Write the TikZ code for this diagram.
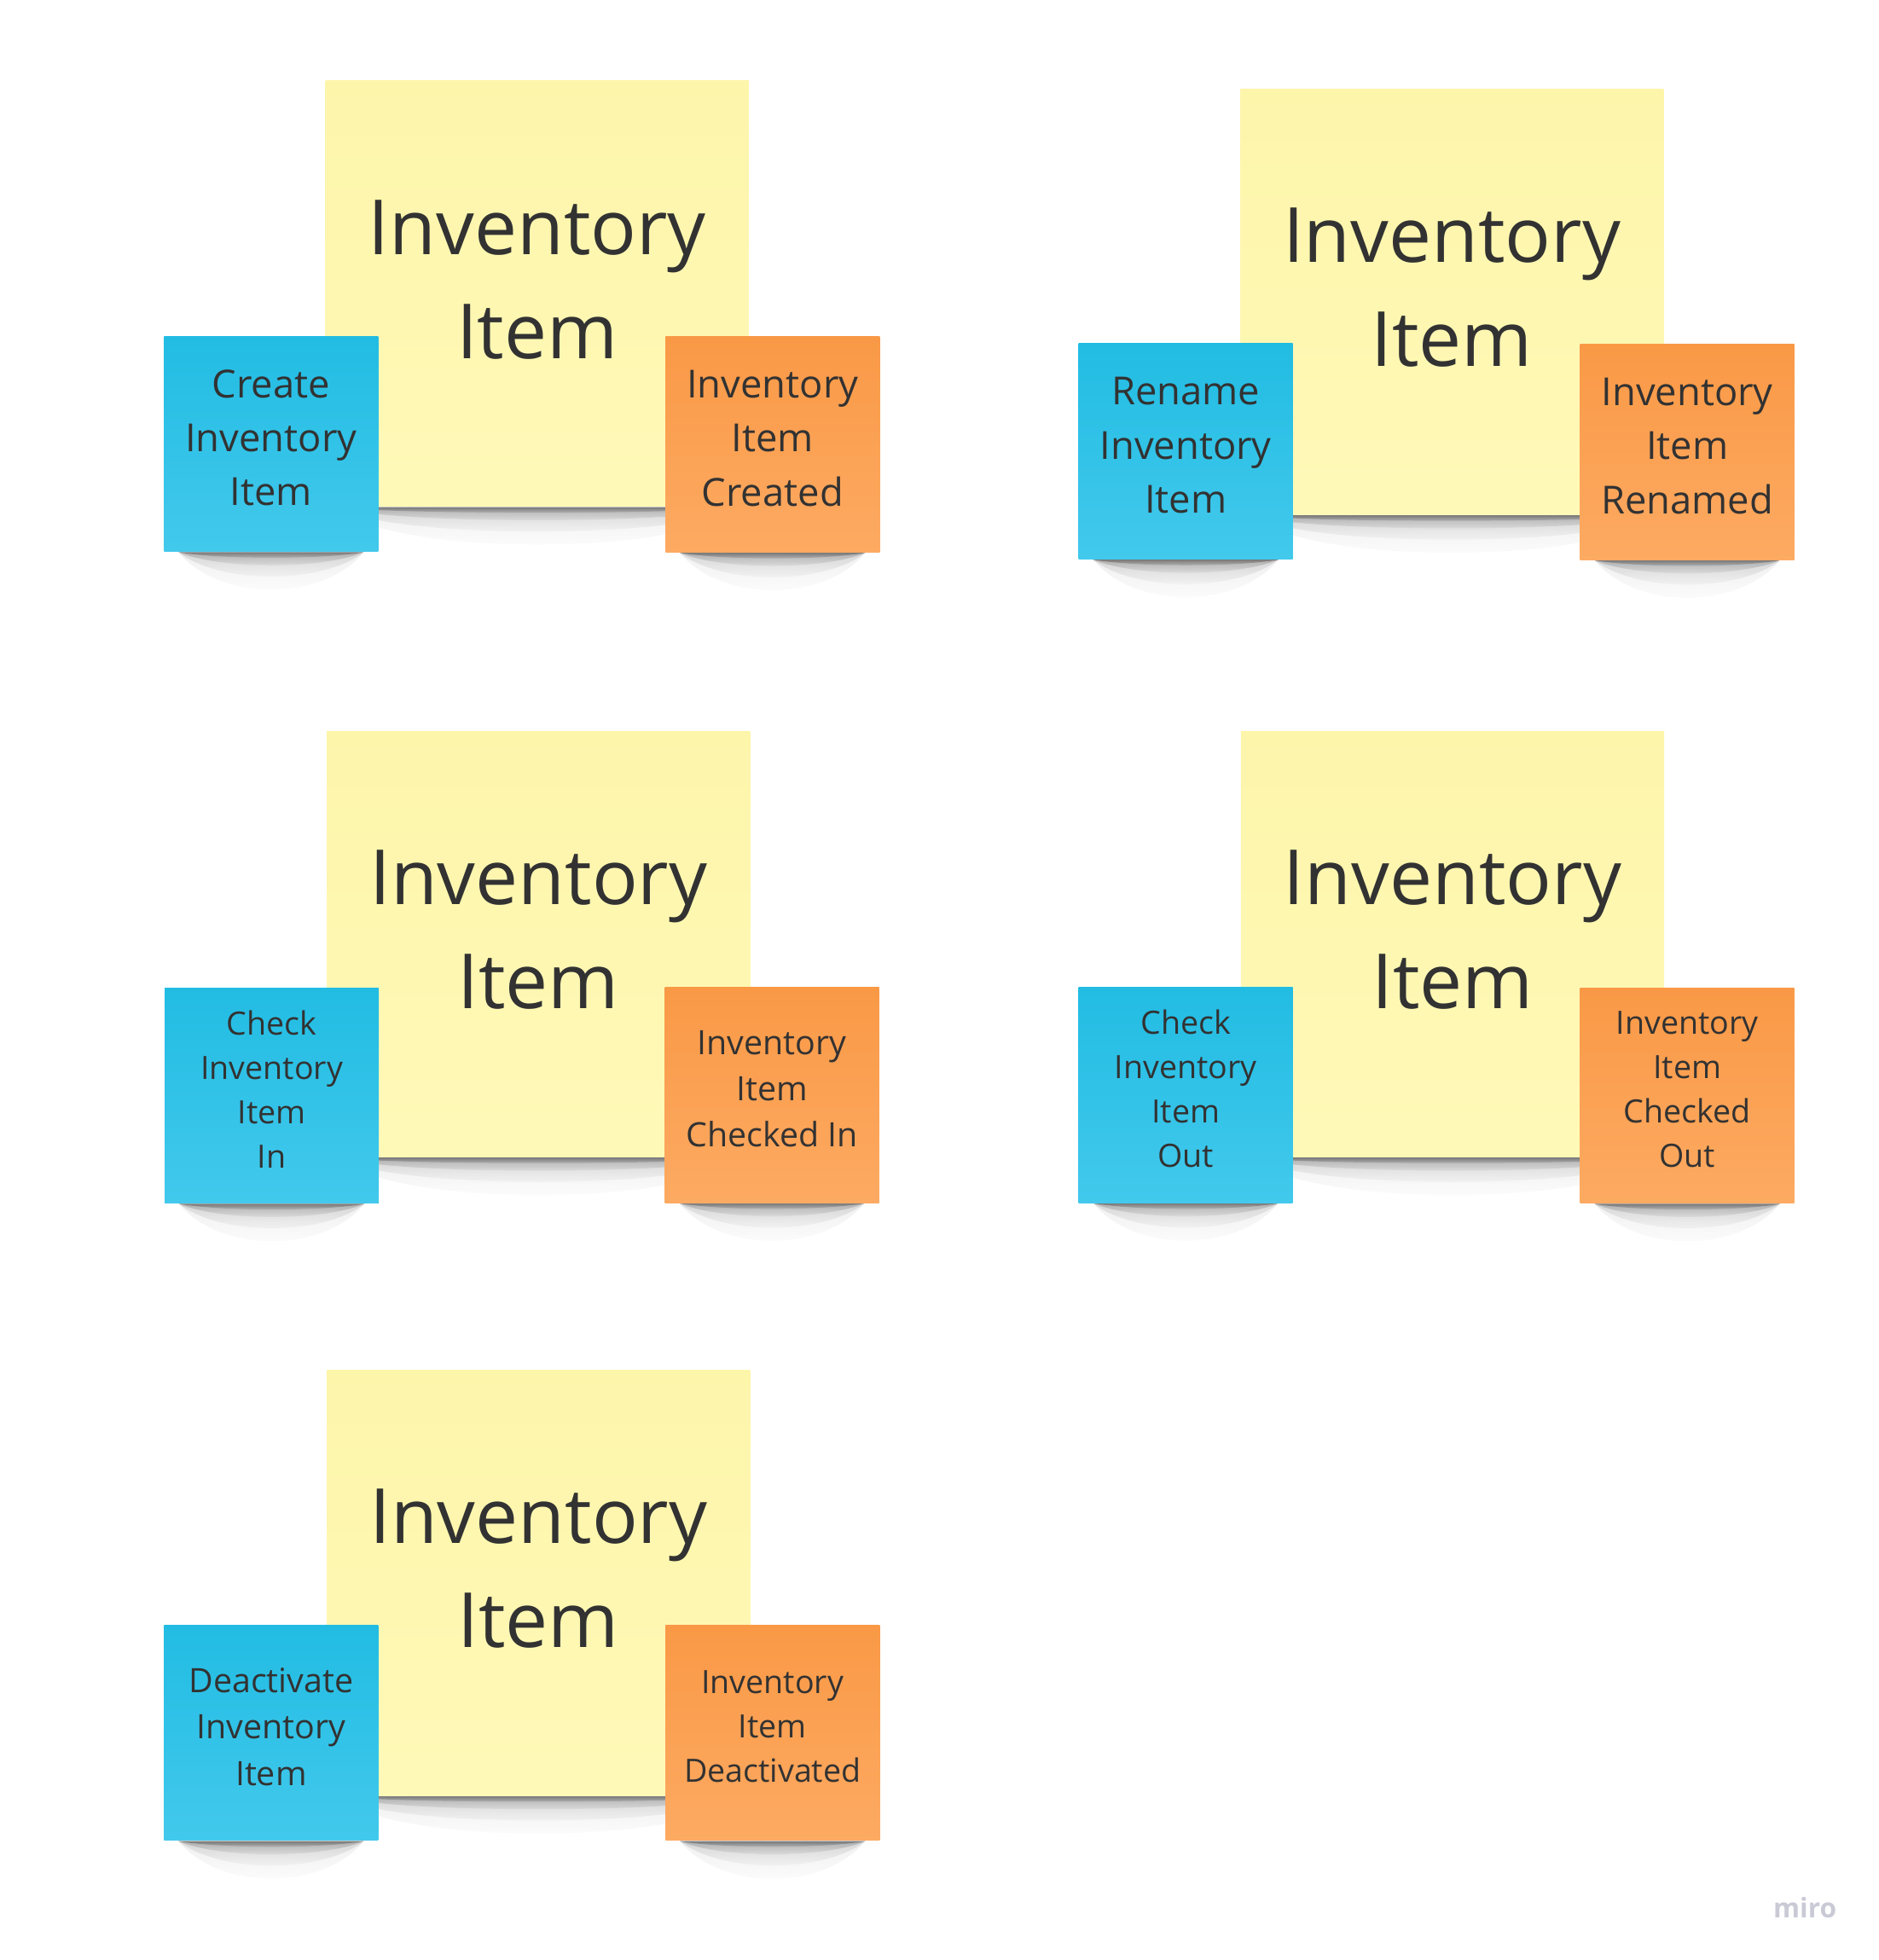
\documentclass[tikz,border=0pt]{standalone}
\usepackage{fontspec}
\setmainfont{Open Sans}
\usetikzlibrary{fadings,backgrounds}
\definecolor{stickyink}{RGB}{50,50,50}
\definecolor{yellowtop}{RGB}{253,245,170}
\definecolor{yellowbot}{RGB}{255,249,184}
\definecolor{cyantop}{RGB}{34,188,227}
\definecolor{cyanbot}{RGB}{66,201,236}
\definecolor{orangetop}{RGB}{249,153,70}
\definecolor{orangebot}{RGB}{253,170,98}
\definecolor{mirogray}{RGB}{202,202,214}
\tikzfading[name=shadowfade, top color=transparent!0, bottom color=transparent!100]
\begin{document}
\begin{tikzpicture}[x=0.01468cm, y=-0.01468cm,
    note/.style={inner sep=0pt, align=center, text=stickyink},
    aggregate/.style={note, minimum width=338*\px, minimum height=340*\px,
        top color=yellowtop, bottom color=yellowbot,
        font=\fontsize{25.4pt}{34.7pt}\selectfont, text depth=9.6pt},
    command/.style={note, minimum width=171*\px, minimum height=172*\px,
        top color=cyantop, bottom color=cyanbot, text depth=4.2pt},
    event/.style={note, minimum width=171*\px, minimum height=172*\px,
        top color=orangetop, bottom color=orangebot, text depth=4.2pt},
    big/.style={font=\fontsize{12.9pt}{18pt}\selectfont},
    mid/.style={font=\fontsize{11.2pt}{15.45pt}\selectfont},
    small/.style={font=\fontsize{10.7pt}{14.75pt}\selectfont}]
    \def\px{0.01468cm}
    \useasboundingbox (0,0) rectangle (1500,1565.4);
    % create
    \node[aggregate] (Y1) at (429,234.5) {Inventory\\Item};
    \node[command,big] (B1) at (216.5,354.5) {Create\\Inventory\\Item};
    \node[event,big] (O1) at (617,355) {Inventory\\Item\\Created};
    % rename
    \node[aggregate] (Y2) at (1159.5,241) {Inventory\\Item};
    \node[command,big] (B2) at (947,360.5) {Rename\\Inventory\\Item};
    \node[event,big] (O2) at (1347.5,361) {Inventory\\Item\\Renamed};
    % check in
    \node[aggregate] (Y3) at (430,754) {Inventory\\Item};
    \node[command,small] (B3) at (217,875) {Check\\Inventory\\Item\\In};
    \node[event,mid] (O3) at (616.5,874.5) {Inventory\\Item\\Checked In};
    % check out
    \node[aggregate] (Y4) at (1160,754) {Inventory\\Item};
    \node[command,small] (B4) at (947,874.5) {Check\\Inventory\\Item\\Out};
    \node[event,small] (O4) at (1347.5,875) {Inventory\\Item\\Checked\\Out};
    % deactivate
    \node[aggregate] (Y5) at (430,1264) {Inventory\\Item};
    \node[command,mid] (B5) at (216.5,1384) {Deactivate\\Inventory\\Item};
    \node[event,small] (O5) at (617,1384) {Inventory\\Item\\Deactivated};
    \node[text=mirogray, font=\fontsize{9pt}{11pt}\selectfont\bfseries] (miro) at (1441.5,1523.8) {miro};
    \begin{pgfonlayer}{background}
        \fill[white] (0,0) rectangle (1500,1565.4);
        % soft shadows, a few stacked layers
        \foreach \n in {Y1,B1,O1,Y2,B2,O2,Y3,B3,O3,Y4,B4,O4,Y5,B5,O5}
            \foreach \d/\o in {6/0.3,14/0.18,26/0.1,40/0.06}
                \fill[black, opacity=\o, path fading=shadowfade]
                    ([xshift=12*\px]\n.south west) .. controls ([xshift=45*\px,yshift=-\d*\px]\n.south west)
                    and ([xshift=-45*\px,yshift=-\d*\px]\n.south east) .. ([xshift=-12*\px]\n.south east) -- cycle;
    \end{pgfonlayer}
\end{tikzpicture}
\end{document}
